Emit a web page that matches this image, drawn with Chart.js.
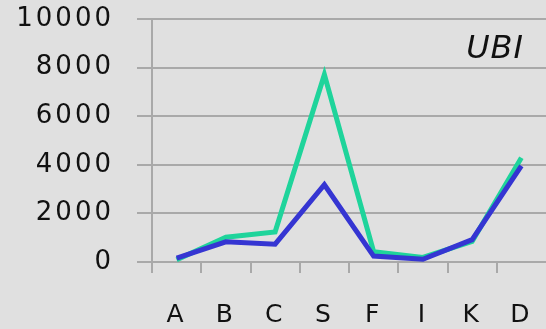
<!DOCTYPE html>
<html>
<head>
<meta charset="utf-8">
<script src="https://cdn.jsdelivr.net/npm/chart.js@4/dist/chart.umd.min.js"></script>
<style>
  html, body { margin: 0; padding: 0; background: #e0e0e0; overflow: hidden; }
  canvas { display: block; }
</style>
</head>
<body>
<canvas id="chart" width="546" height="329"></canvas>
<script>
var labels = ["A", "B", "C", "S", "F", "I", "K", "D"]
var blueValues = [160, 830, 735, 3180, 245, 110, 920, 3960]
var greenValues = [90, 1020, 1240, 7710, 420, 190, 850, 4290]
var yTicks = [0, 2000, 4000, 6000, 8000, 10000]
var cornerLabel = "UBI"

var gridColor = "#a9a9a9"

// wider letters like the original face, and the corner label
var cornerText = {
    id: "cornerText",
    beforeDraw: function(chart) {
        chart.ctx.letterSpacing = "3px"
    },
    afterDraw: function(chart) {
        var ctx = chart.ctx
        ctx.save()
        ctx.letterSpacing = "1px"
        ctx.font = "italic 32px 'DejaVu Sans'"
        ctx.fillStyle = "#111"
        ctx.textAlign = "right"
        ctx.textBaseline = "middle"
        ctx.fillText(cornerLabel, 524, 50)
        ctx.restore()
    }
}

var ctx = document.getElementById("chart").getContext("2d")
var chart = new Chart(ctx, {
    type: "line",
    data: {
        labels: labels,
        datasets: [{
            label: "blue",
            data: blueValues,
            borderColor: "#3535d2",
            borderWidth: 5,
            pointRadius: 0,
            tension: 0
        }, {
            label: "green",
            data: greenValues,
            borderColor: "#1fd49b",
            borderWidth: 5,
            pointRadius: 0,
            tension: 0
        }]
    },
    options: {
        responsive: false,
        animation: false,
        layout: { padding: { top: 19, right: 0, left: 0, bottom: 0 } },
        plugins: {
            legend: { display: false },
            tooltip: { enabled: false }
        },
        scales: {
            x: {
                offset: true,
                grid: {
                    offset: true,
                    drawOnChartArea: false,
                    tickLength: 11,
                    // no tick mark at the far right edge
                    color: function(c) {
                        return c.type === "tick" ? gridColor : "rgba(0,0,0,0)"
                    },
                    lineWidth: 2
                },
                border: { display: false },
                ticks: {
                    autoSkip: false,
                    maxRotation: 0,
                    padding: 27,
                    color: "#111",
                    font: { family: "DejaVu Sans", size: 25 }
                },
                afterFit: function(scale) {
                    scale.height = 67
                    scale.paddingLeft = 0
                    scale.paddingRight = 0
                }
            },
            y: {
                min: 0,
                max: 10000,
                afterBuildTicks: function(scale) {
                    scale.ticks = yTicks.map(function(v) { return { value: v } })
                },
                grid: {
                    tickLength: 15,
                    color: gridColor,
                    lineWidth: 2
                },
                border: { display: true, color: gridColor, width: 2 },
                ticks: {
                    autoSkip: false,
                    padding: 23,
                    color: "#111",
                    font: { family: "DejaVu Sans", size: 26 },
                    callback: function(v) { return String(v) }
                },
                afterFit: function(scale) {
                    scale.width = 152
                    scale.paddingTop = 0
                    scale.paddingBottom = 0
                }
            }
        }
    },
    plugins: [cornerText]
})
</script>
</body>
</html>
